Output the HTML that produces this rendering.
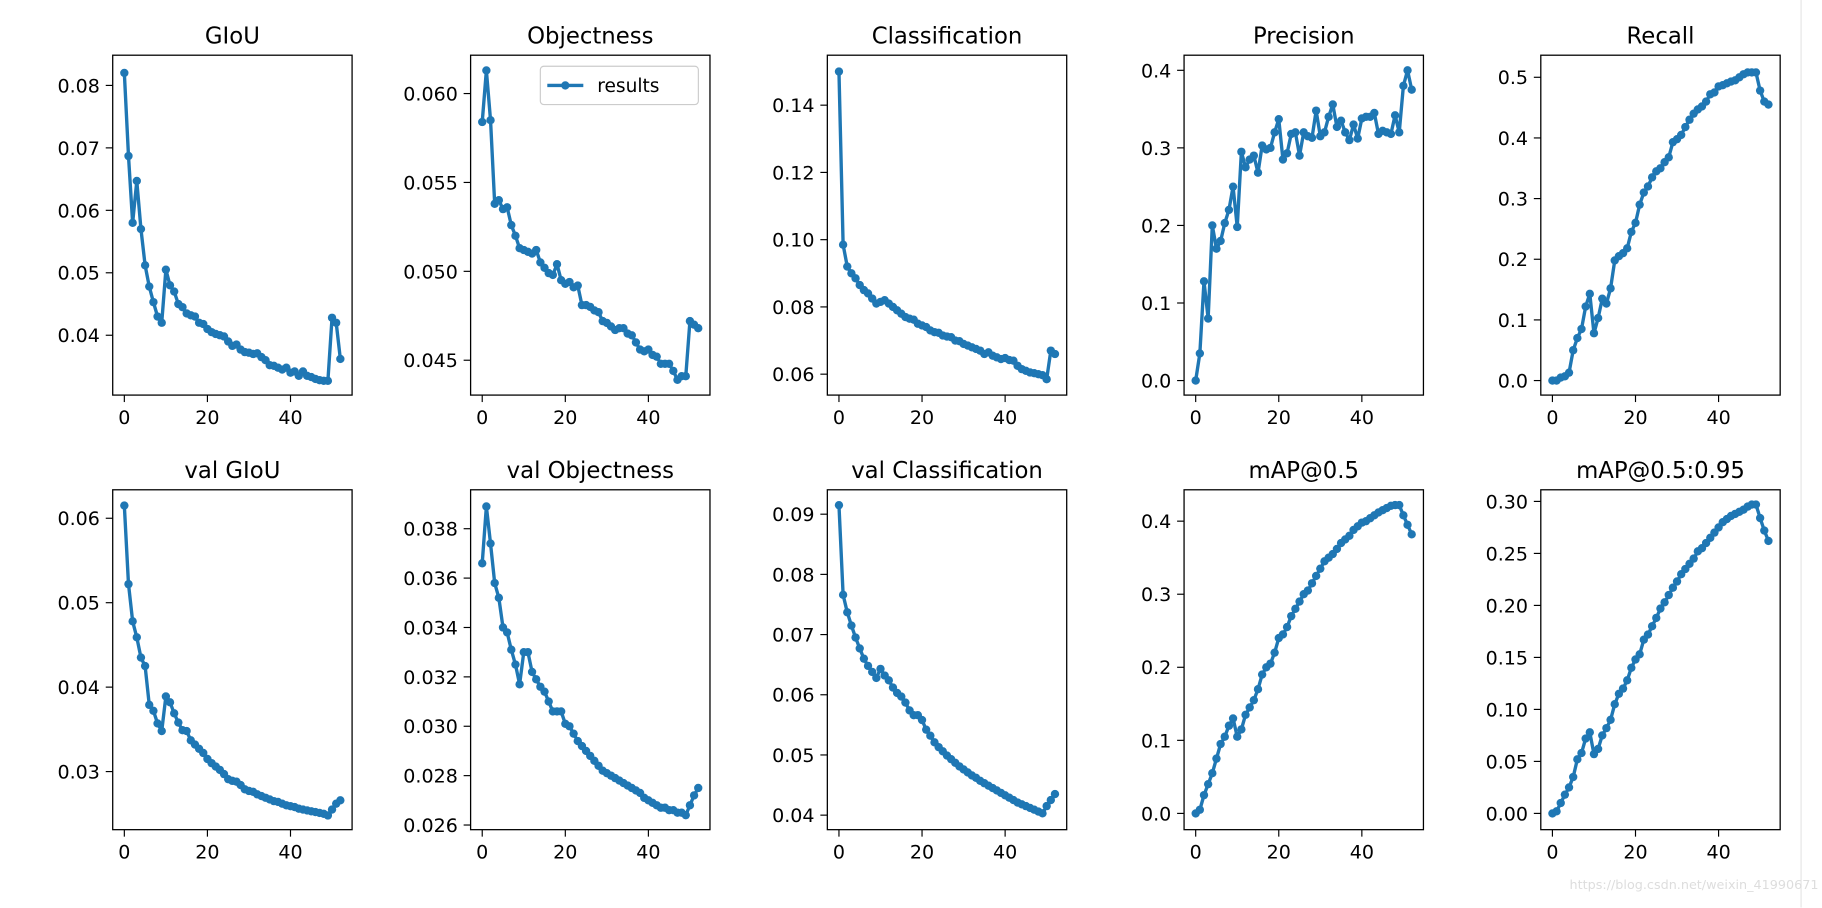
<!DOCTYPE html>
<html><head><meta charset="utf-8"><style>
html,body{margin:0;padding:0;background:#fff;}
svg{display:block;font-family:"DejaVu Sans","Liberation Sans",sans-serif;}
</style></head><body>
<svg id="fig" width="1822" height="908" viewBox="0 0 1568 781.4" xmlns="http://www.w3.org/2000/svg"></svg>
<script>
const titles = ["GIoU","Objectness","Classification","Precision","Recall","val GIoU","val Objectness","val Classification","mAP@0.5","mAP@0.5:0.95"];
const xTicks = [0,20,40];
const gIoU = [0.082,0.0687,0.058,0.0647,0.057,0.0512,0.0478,0.0453,0.043,0.042,0.0505,0.048,0.047,0.045,0.0445,0.0435,0.0432,0.043,0.042,0.0418,0.041,0.0405,0.0402,0.040,0.0398,0.039,0.0383,0.0385,0.0377,0.0373,0.0372,0.037,0.0371,0.0365,0.036,0.0352,0.0351,0.0348,0.0345,0.0348,0.034,0.0342,0.0335,0.0342,0.0335,0.0333,0.033,0.0328,0.0327,0.0327,0.0428,0.042,0.0362];
const objectness = [0.0584,0.0613,0.0585,0.0538,0.054,0.0535,0.0536,0.0526,0.052,0.0513,0.0512,0.0511,0.051,0.0512,0.0505,0.0502,0.0499,0.0498,0.0504,0.0495,0.0493,0.0494,0.0491,0.0492,0.0481,0.0481,0.048,0.0478,0.0477,0.0472,0.0471,0.0469,0.0467,0.0468,0.0468,0.0465,0.0464,0.046,0.0456,0.0455,0.0456,0.0453,0.0452,0.0448,0.0448,0.0448,0.0444,0.0439,0.0441,0.0441,0.0472,0.047,0.0468];
const classification = [0.150,0.0985,0.092,0.090,0.0885,0.0865,0.085,0.084,0.0825,0.081,0.0815,0.082,0.081,0.080,0.079,0.078,0.077,0.0765,0.0762,0.075,0.0745,0.074,0.073,0.0725,0.0723,0.0715,0.0712,0.071,0.070,0.0698,0.069,0.0685,0.068,0.0675,0.067,0.066,0.0665,0.0655,0.065,0.0645,0.0648,0.0642,0.064,0.0625,0.0615,0.061,0.0605,0.0603,0.060,0.0597,0.0585,0.067,0.066];
const precision = [0,0.035,0.128,0.08,0.2,0.17,0.18,0.203,0.22,0.25,0.198,0.295,0.275,0.285,0.29,0.268,0.303,0.298,0.30,0.32,0.337,0.285,0.293,0.318,0.32,0.29,0.32,0.315,0.313,0.348,0.315,0.32,0.34,0.356,0.327,0.335,0.32,0.31,0.33,0.312,0.338,0.34,0.34,0.345,0.318,0.322,0.32,0.318,0.342,0.32,0.38,0.4,0.375];
const recall = [0,0,0.005,0.007,0.013,0.05,0.07,0.085,0.122,0.143,0.078,0.103,0.135,0.127,0.152,0.198,0.205,0.21,0.218,0.245,0.26,0.29,0.31,0.32,0.335,0.345,0.35,0.36,0.368,0.393,0.398,0.405,0.418,0.43,0.44,0.447,0.452,0.46,0.472,0.475,0.485,0.487,0.49,0.493,0.495,0.5,0.505,0.508,0.508,0.508,0.478,0.46,0.455];
const valGIoU = [0.0615,0.0522,0.0478,0.0459,0.0435,0.0425,0.0379,0.0372,0.0357,0.0348,0.0389,0.0382,0.0369,0.0358,0.0349,0.0348,0.0337,0.0332,0.0327,0.0322,0.0315,0.031,0.0306,0.0302,0.0297,0.0291,0.0289,0.0288,0.0284,0.0279,0.0277,0.0276,0.0273,0.0271,0.0269,0.0267,0.0265,0.0264,0.0262,0.026,0.0259,0.0258,0.0256,0.0255,0.0254,0.0253,0.0252,0.0251,0.025,0.0248,0.0255,0.0262,0.0266];
const valObjectness = [0.0366,0.0389,0.0374,0.0358,0.0352,0.034,0.0338,0.0331,0.0325,0.0317,0.033,0.033,0.0322,0.0319,0.0316,0.0314,0.031,0.0306,0.0306,0.0306,0.0301,0.03,0.0297,0.0294,0.0292,0.029,0.0288,0.0286,0.0284,0.0282,0.0281,0.028,0.0279,0.0278,0.0277,0.0276,0.0275,0.0274,0.0273,0.0271,0.027,0.0269,0.0268,0.0267,0.0267,0.0266,0.0266,0.0265,0.0265,0.0264,0.0268,0.0272,0.0275];
const valClassification = [0.0915,0.0766,0.0737,0.0715,0.0695,0.0677,0.066,0.0648,0.0638,0.0628,0.0643,0.0632,0.0624,0.0612,0.0603,0.0597,0.0587,0.0574,0.0566,0.0566,0.0558,0.0542,0.0532,0.0521,0.0513,0.0506,0.0499,0.0493,0.0487,0.0481,0.0476,0.0471,0.0466,0.0462,0.0457,0.0453,0.0449,0.0445,0.0441,0.0437,0.0433,0.0429,0.0425,0.0421,0.0418,0.0415,0.0412,0.0409,0.0406,0.0403,0.0415,0.0425,0.0435];
const map50 = [0,0.005,0.025,0.04,0.055,0.075,0.095,0.105,0.12,0.13,0.105,0.115,0.135,0.145,0.155,0.17,0.19,0.2,0.205,0.22,0.24,0.245,0.255,0.27,0.28,0.29,0.3,0.305,0.315,0.325,0.335,0.345,0.35,0.355,0.362,0.37,0.375,0.38,0.388,0.393,0.398,0.4,0.404,0.408,0.412,0.415,0.418,0.421,0.422,0.422,0.408,0.395,0.382];
const map5095 = [0,0.002,0.01,0.018,0.025,0.035,0.052,0.058,0.072,0.078,0.057,0.062,0.075,0.082,0.09,0.105,0.115,0.12,0.128,0.14,0.148,0.153,0.167,0.172,0.18,0.188,0.197,0.203,0.21,0.217,0.223,0.23,0.235,0.24,0.245,0.252,0.255,0.26,0.265,0.27,0.275,0.28,0.283,0.286,0.288,0.29,0.292,0.295,0.297,0.297,0.284,0.272,0.262];
const series = [gIoU,objectness,classification,precision,recall,valGIoU,valObjectness,valClassification,map50,map5095];
const yTickLabels = [
 ["0.04","0.05","0.06","0.07","0.08"],
 ["0.045","0.050","0.055","0.060"],
 ["0.06","0.08","0.10","0.12","0.14"],
 ["0.0","0.1","0.2","0.3","0.4"],
 ["0.0","0.1","0.2","0.3","0.4","0.5"],
 ["0.03","0.04","0.05","0.06"],
 ["0.026","0.028","0.030","0.032","0.034","0.036","0.038"],
 ["0.04","0.05","0.06","0.07","0.08","0.09"],
 ["0.0","0.1","0.2","0.3","0.4"],
 ["0.00","0.05","0.10","0.15","0.20","0.25","0.30"]
];
// axis calibration: two reference values and their pixel rows
const calLo = [0.04,0.045,0.06,0.0,0.0,0.03,0.026,0.04,0.0,0.0];
const calHi = [0.08,0.060,0.14,0.4,0.5,0.06,0.038,0.09,0.4,0.30];
const pixLo = [288.5,310,322,327.5,327.5,664,710,701.5,700,700];
const pixHi = [73.5,80.5,90.5,60.5,66.5,446,455,442.5,448.5,431.5];

const NS="http://www.w3.org/2000/svg";
const svg=document.getElementById('fig');
function el(tag,attrs,parent){const e=document.createElementNS(NS,tag);for(const k in attrs)e.setAttribute(k,attrs[k]);(parent||svg).appendChild(e);return e;}
const lefts=[97,405,712,1019,1326], W=206, tops=[47.5,421.5], H=292.5;

for(let p=0;p<10;p++){
  const L=lefts[p%5], T=tops[Math.floor(p/5)];
  const g=el('g',{});
  
  
  const xs=v=>L+10+v*3.575;
  const ys=v=>pixLo[p]+(v-calLo[p])*(pixHi[p]-pixLo[p])/(calHi[p]-calLo[p]);
  const t=el('text',{x:L+W/2,y:T-10,'text-anchor':'middle','font-size':'19.6',fill:'#000'},g);
  t.textContent=titles[p];
  
  
  xTicks.forEach(v=>{
    el('line',{x1:xs(v),x2:xs(v),y1:T+H,y2:T+H+6,stroke:'#000','stroke-width':1},g);
    const tx=el('text',{x:xs(v),y:T+H+25,'text-anchor':'middle','font-size':'16.4',fill:'#000'},g);
    tx.textContent=v;
    
    
  });
  yTickLabels[p].forEach(s=>{
    const v=parseFloat(s), y=ys(v);
    el('line',{x1:L-6,x2:L,y1:y,y2:y,stroke:'#000','stroke-width':1},g);
    const ty=el('text',{x:L-11,y:y+6,'text-anchor':'end','font-size':'16.4',fill:'#000'},g);
    ty.textContent=s;
    
    
  });
  const d=series[p];
  const pts=d.map((v,i)=>xs(i).toFixed(2)+','+ys(v).toFixed(2)).join(' ');
  const line=el('polyline',{points:pts,fill:'none',stroke:'#1f77b4','stroke-width':2.9,'stroke-linejoin':'round'},g);
  
  
  d.forEach((v,i)=>{
    const c=el('circle',{cx:xs(i),cy:ys(v),r:3.6,fill:'#1f77b4'},g);
    
    
  });
  const fr=el('rect',{x:L,y:T,width:W,height:H,fill:'none',stroke:'#000','stroke-width':1.1},g);
  
  
  if(p===1){
    const lg=el('g',{},g);
    
    
    el('rect',{x:465,y:57,width:136,height:33,rx:3,fill:'#fff',stroke:'#ccc','stroke-width':1},lg);
    el('line',{x1:471,x2:502,y1:73.5,y2:73.5,stroke:'#1f77b4','stroke-width':2.9},lg);
    el('circle',{cx:486.5,cy:73.5,r:3.6,fill:'#1f77b4'},lg);
    const lt=el('text',{x:514,y:79,'font-size':'16',fill:'#000'},lg);
    lt.textContent='results';
    
    
  }
}
el('line',{x1:1550,x2:1550,y1:0,y2:781,stroke:'#e6e6e6','stroke-width':1});
const wm=el('text',{x:1565,y:765,'text-anchor':'end','font-size':'11',fill:'#ddd'});
wm.textContent='https://blog.csdn.net/weixin_41990671';


</script>
</body></html>
